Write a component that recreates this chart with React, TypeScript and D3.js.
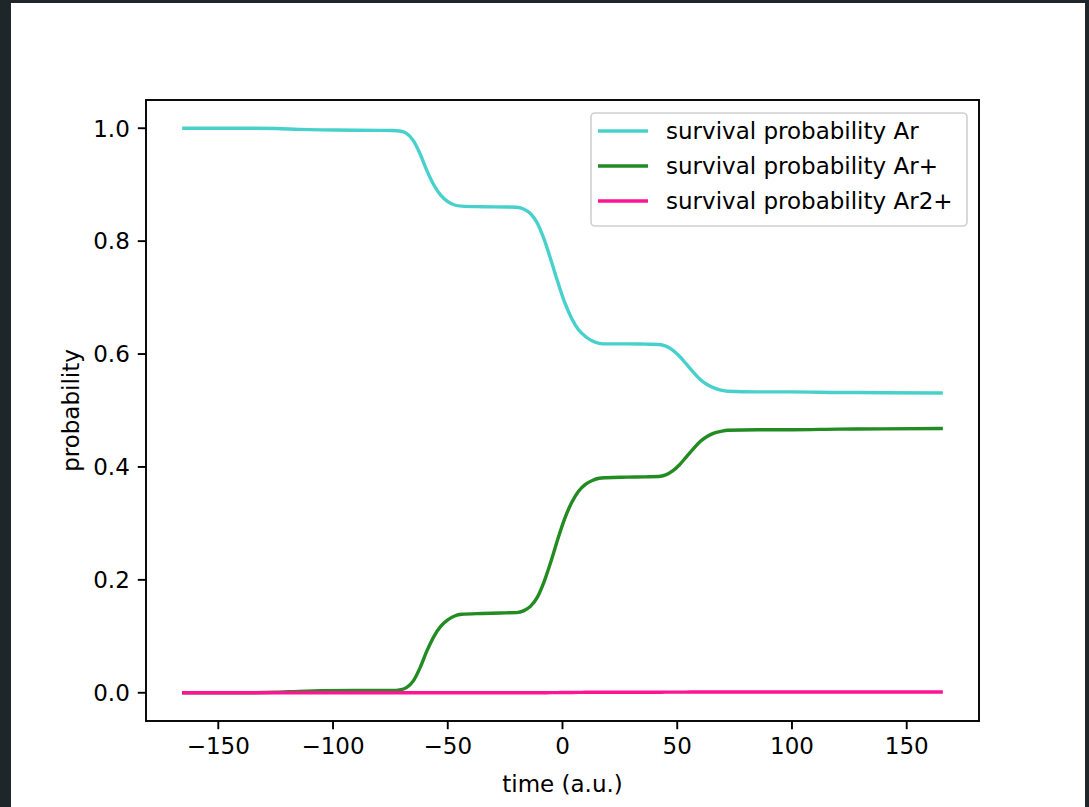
import React from "react";
import * as d3 from "d3";

const times = [
  -165, -140, -125, -115, -105, -90,
  -74, -71, -68, -65, -62, -59, -56, -53, -50, -47, -44,
  -35, -25,
  -20, -17, -14, -11, -8, -5, -2, 1, 4, 7, 10, 13, 16, 19,
  28, 36,
  42, 45, 48, 51, 54, 57, 60, 63, 66, 69, 72,
  85, 100, 120, 140, 165,
];

const survivalAr = [
  1.0, 1.0, 0.9995, 0.998, 0.997, 0.9965,
  0.996, 0.995, 0.991, 0.978, 0.954, 0.924, 0.899, 0.881, 0.87, 0.864, 0.862,
  0.861, 0.8605,
  0.86, 0.857, 0.849, 0.832, 0.803, 0.766, 0.727, 0.691, 0.663, 0.643, 0.631, 0.623, 0.619, 0.618,
  0.618, 0.6175,
  0.617, 0.614, 0.607, 0.596, 0.582, 0.568, 0.555, 0.546, 0.54, 0.536, 0.534,
  0.533, 0.533, 0.532, 0.5315, 0.531,
];

const survivalArPlus = [
  0.0, 0.0, 0.0008, 0.0025, 0.0035, 0.004,
  0.004, 0.005, 0.009, 0.021, 0.045, 0.075, 0.1, 0.118, 0.129, 0.136, 0.139,
  0.1405, 0.1415,
  0.142, 0.145, 0.153, 0.169, 0.197, 0.233, 0.273, 0.309, 0.337, 0.357, 0.369, 0.376, 0.38, 0.381,
  0.382, 0.3825,
  0.383, 0.386, 0.393, 0.404, 0.418, 0.432, 0.445, 0.454, 0.46, 0.463, 0.465,
  0.466, 0.466, 0.467, 0.4675, 0.468,
];

const survivalAr2Plus = [
  0.0, 0.0, 0.0, 0.0, 0.0, 0.0,
  0.0, 0.0, 0.0, 0.0, 0.0, 0.0, 0.0, 0.0, 0.0, 0.0, 0.0,
  0.0, 0.0,
  0.0, 0.0, 0.0, 0.0, 0.0001, 0.0002, 0.0003, 0.0005, 0.0006, 0.0007, 0.0008, 0.0009, 0.001, 0.001,
  0.001, 0.001,
  0.001, 0.0011, 0.0011, 0.0012, 0.0012, 0.0013, 0.0013, 0.0013, 0.0014, 0.0014, 0.0014,
  0.0014, 0.0015, 0.0015, 0.0015, 0.0015,
];

const seriesNames = ["survival probability Ar", "survival probability Ar+", "survival probability Ar2+"];
const seriesColors = ["#48D1CC", "#228B22", "#FF1493"];
const xTicks = [-150, -100, -50, 0, 50, 100, 150];
const yTicks = [0, 0.2, 0.4, 0.6, 0.8, 1.0];

const W = 1089;
const H = 807;
const FONT = "'DejaVu Sans', sans-serif";
const FS = 23;

export default function App() {
  const left = 146, right = 979, top = 100, bottom = 721;
  const x = d3.scaleLinear().domain([-181.5, 181.5]).range([left, right]);
  const y = d3.scaleLinear().domain([-0.05, 1.05]).range([bottom, top]);
  const series = [survivalAr, survivalArPlus, survivalAr2Plus];
  const line = d3
    .line<number>()
    .x((_, i) => x(times[i]))
    .y((d) => y(d))
    .curve(d3.curveMonotoneX);
  const fmtX = (v: number) => (v < 0 ? "\u2212" + Math.abs(v) : String(v));
  const fmtY = d3.format(".1f");
  const tick = 8.2;
  const legX = 591, legY = 113, legW = 376, legH = 113;
  const rowY = [131, 166, 201];

  return (
    <div style={{ position: "fixed", left: 0, top: 0, width: W, height: H }}>
      <svg width={W} height={H} style={{ display: "block" }}>
        <rect x={0} y={0} width={W} height={H} fill="#1f2629" />
        <rect x={11} y={3} width={1074} height={H - 3} fill="#ffffff" />
        <defs>
          <clipPath id="plotclip">
            <rect x={left} y={top} width={right - left} height={bottom - top} />
          </clipPath>
        </defs>
        <g clipPath="url(#plotclip)">
          {series.map((s, k) => (
            <path
              key={k}
              d={line(s) || ""}
              fill="none"
              stroke={seriesColors[k]}
              strokeWidth={3.4}
              strokeLinejoin="round"
              strokeLinecap="square"
            />
          ))}
        </g>
        <rect x={left} y={top} width={right - left} height={bottom - top} fill="none" stroke="#000" strokeWidth={1.9} />
        {xTicks.map((t) => (
          <g key={"x" + t}>
            <line x1={x(t)} x2={x(t)} y1={bottom} y2={bottom + tick} stroke="#000" strokeWidth={1.9} />
            <text x={x(t)} y={bottom + tick + 8 + 17} textAnchor="middle" fontFamily={FONT} fontSize={FS} fill="#000">
              {fmtX(t)}
            </text>
          </g>
        ))}
        {yTicks.map((t) => (
          <g key={"y" + t}>
            <line x1={left - tick} x2={left} y1={y(t)} y2={y(t)} stroke="#000" strokeWidth={1.9} />
            <text x={left - tick - 8} y={y(t)} dy="0.36em" textAnchor="end" fontFamily={FONT} fontSize={FS} fill="#000">
              {fmtY(t)}
            </text>
          </g>
        ))}
        <text x={(left + right) / 2} y={792} textAnchor="middle" fontFamily={FONT} fontSize={FS} fill="#000">
          time (a.u.)
        </text>
        <text
          transform={`translate(79, ${(top + bottom) / 2}) rotate(-90)`}
          textAnchor="middle"
          fontFamily={FONT}
          fontSize={FS}
          fill="#000"
        >
          probability
        </text>
        <rect x={legX} y={legY} width={legW} height={legH} rx={4} ry={4} fill="#fff" fillOpacity={0.8} stroke="#d0d0d0" strokeWidth={1.6} />
        {seriesNames.map((n, k) => (
          <g key={n}>
            <line x1={598} x2={648} y1={rowY[k]} y2={rowY[k]} stroke={seriesColors[k]} strokeWidth={3.4} />
            <text x={666} y={rowY[k]} dy="0.36em" fontFamily={FONT} fontSize={FS} fill="#000">
              {n}
            </text>
          </g>
        ))}
      </svg>
    </div>
  );
}
